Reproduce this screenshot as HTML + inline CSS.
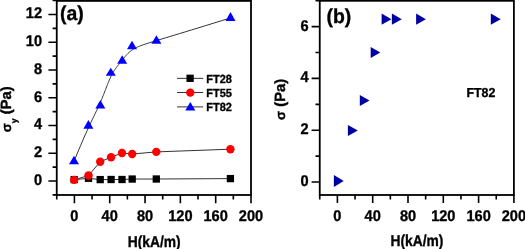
<!DOCTYPE html>
<html><head><meta charset="utf-8"><style>
html,body{margin:0;padding:0;background:#fff;width:525px;height:249px;overflow:hidden}
svg{display:block}
text{font-family:"Liberation Sans",sans-serif;fill:#000;stroke:#000;stroke-width:0.35px;text-rendering:geometricPrecision}
svg{will-change:transform}
</style></head><body>
<svg width="525" height="249" viewBox="0 0 525 249">
<rect width="525" height="249" fill="#fff"/>
<path d="M74.20 179.60L88.50 178.30L100.20 179.60L111.10 179.50L122.00 179.50L132.20 179.05L156.30 179.00L230.40 178.60" stroke="#333" stroke-width="1.0" fill="none"/>
<path d="M74.20 179.90L88.50 175.50L100.20 161.80L111.10 157.20L122.00 153.00L132.20 154.00L156.30 151.90L230.40 149.20" stroke="#333" stroke-width="1.0" fill="none"/>
<path d="M74.00 161.40L75.77 157.06L77.46 152.97L79.06 149.13L80.58 145.53L82.03 142.15L83.40 138.98L84.70 136.01L85.94 133.23L87.11 130.62L88.22 128.19L89.28 125.90L90.28 123.76L91.23 121.75L92.13 119.86L92.98 118.08L93.80 116.40L94.58 114.80L95.32 113.27L96.03 111.81L96.71 110.40L97.37 109.03L98.01 107.69L98.62 106.36L99.22 105.04L99.81 103.72L100.38 102.39L100.95 101.06L101.50 99.74L102.04 98.42L102.57 97.10L103.09 95.79L103.61 94.49L104.11 93.20L104.61 91.92L105.10 90.66L105.58 89.40L106.06 88.17L106.54 86.95L107.01 85.75L107.47 84.58L107.94 83.42L108.40 82.30L108.85 81.19L109.31 80.12L109.77 79.08L110.23 78.07L110.68 77.09L111.14 76.14L111.60 75.23L112.06 74.36L112.53 73.52L112.99 72.70L113.46 71.92L113.92 71.16L114.39 70.43L114.85 69.72L115.32 69.03L115.79 68.36L116.25 67.71L116.72 67.08L117.18 66.46L117.65 65.86L118.11 65.27L118.57 64.69L119.03 64.11L119.49 63.55L119.95 62.98L120.40 62.43L120.86 61.87L121.31 61.31L121.75 60.76L122.20 60.20L122.64 59.63L123.09 59.07L123.53 58.50L123.99 57.93L124.44 57.35L124.91 56.78L125.39 56.21L125.88 55.64L126.39 55.07L126.91 54.50L127.46 53.94L128.02 53.37L128.61 52.82L129.23 52.26L129.87 51.71L130.54 51.17L131.25 50.64L131.99 50.11L132.76 49.59L133.58 49.07L134.43 48.57L135.33 48.08L136.27 47.59L137.26 47.12L138.32 46.65L139.48 46.17L140.75 45.68L142.16 45.16L143.75 44.61L145.53 44.01L147.53 43.36L149.78 42.65L152.30 41.86L155.12 41.00L158.26 40.04L161.75 38.98L165.62 37.81L169.89 36.51L174.58 35.09L179.72 33.54L185.34 31.83L191.46 29.96L198.11 27.93L205.31 25.72L213.10 23.32L221.48 20.73L230.50 17.93" stroke="#333" stroke-width="1.0" fill="none"/>
<rect x="70.55" y="175.95" width="7.3" height="7.3" fill="#000"/>
<rect x="84.85" y="174.65" width="7.3" height="7.3" fill="#000"/>
<rect x="96.55" y="175.95" width="7.3" height="7.3" fill="#000"/>
<rect x="107.45" y="175.85" width="7.3" height="7.3" fill="#000"/>
<rect x="118.35" y="175.85" width="7.3" height="7.3" fill="#000"/>
<rect x="128.55" y="175.40" width="7.3" height="7.3" fill="#000"/>
<rect x="152.65" y="175.35" width="7.3" height="7.3" fill="#000"/>
<rect x="226.75" y="174.95" width="7.3" height="7.3" fill="#000"/>
<circle cx="74.20" cy="179.90" r="4.2" fill="#f00"/>
<circle cx="88.50" cy="175.50" r="4.2" fill="#f00"/>
<circle cx="100.20" cy="161.80" r="4.2" fill="#f00"/>
<circle cx="111.10" cy="157.20" r="4.2" fill="#f00"/>
<circle cx="122.00" cy="153.00" r="4.2" fill="#f00"/>
<circle cx="132.20" cy="154.00" r="4.2" fill="#f00"/>
<circle cx="156.30" cy="151.90" r="4.2" fill="#f00"/>
<circle cx="230.40" cy="149.20" r="4.2" fill="#f00"/>
<path d="M74.00 155.80L79.00 164.20L69.00 164.20Z" fill="#00f"/>
<path d="M88.40 120.10L93.40 128.80L83.40 128.80Z" fill="#00f"/>
<path d="M100.35 100.00L105.35 108.50L95.35 108.50Z" fill="#00f"/>
<path d="M110.80 67.80L115.80 75.80L105.80 75.80Z" fill="#00f"/>
<path d="M122.20 55.30L127.20 63.70L117.20 63.70Z" fill="#00f"/>
<path d="M132.00 40.80L137.00 49.30L127.00 49.30Z" fill="#00f"/>
<path d="M156.40 35.30L161.40 43.80L151.40 43.80Z" fill="#00f"/>
<path d="M230.50 12.00L235.50 20.90L225.50 20.90Z" fill="#00f"/>
<rect x="56.75" y="0.9" width="194.25" height="194.10" fill="none" stroke="#000" stroke-width="1.8"/>
<path d="M56.75 181.00L48.40 181.00 M56.75 153.24L48.40 153.24 M56.75 125.48L48.40 125.48 M56.75 97.73L48.40 97.73 M56.75 69.97L48.40 69.97 M56.75 42.21L48.40 42.21 M56.75 14.45L48.40 14.45 M56.75 194.88L52.60 194.88 M56.75 167.12L52.60 167.12 M56.75 139.36L52.60 139.36 M56.75 111.61L52.60 111.61 M56.75 83.85L52.60 83.85 M56.75 56.09L52.60 56.09 M56.75 28.33L52.60 28.33 M56.75 0.57L52.60 0.57 M74.40 195.00L74.40 203.20 M109.72 195.00L109.72 203.20 M145.04 195.00L145.04 203.20 M180.36 195.00L180.36 203.20 M215.68 195.00L215.68 203.20 M251.00 195.00L251.00 203.20 M56.74 195.00L56.74 199.40 M92.06 195.00L92.06 199.40 M127.38 195.00L127.38 199.40 M162.70 195.00L162.70 199.40 M198.02 195.00L198.02 199.40 M233.34 195.00L233.34 199.40" stroke="#000" stroke-width="1.6" fill="none"/>
<text transform="translate(42.00 184.80) scale(0.94 1)" font-size="15.5" text-anchor="end" font-family="Liberation Sans, sans-serif" font-weight="bold">0</text>
<text transform="translate(42.00 157.04) scale(0.94 1)" font-size="15.5" text-anchor="end" font-family="Liberation Sans, sans-serif" font-weight="bold">2</text>
<text transform="translate(42.00 129.28) scale(0.94 1)" font-size="15.5" text-anchor="end" font-family="Liberation Sans, sans-serif" font-weight="bold">4</text>
<text transform="translate(42.00 101.53) scale(0.94 1)" font-size="15.5" text-anchor="end" font-family="Liberation Sans, sans-serif" font-weight="bold">6</text>
<text transform="translate(42.00 73.77) scale(0.94 1)" font-size="15.5" text-anchor="end" font-family="Liberation Sans, sans-serif" font-weight="bold">8</text>
<text transform="translate(42.00 46.01) scale(0.94 1)" font-size="15.5" text-anchor="end" font-family="Liberation Sans, sans-serif" font-weight="bold">10</text>
<text transform="translate(42.00 18.25) scale(0.94 1)" font-size="15.5" text-anchor="end" font-family="Liberation Sans, sans-serif" font-weight="bold">12</text>
<text transform="translate(74.40 221.00) scale(0.94 1)" font-size="15.5" text-anchor="middle" font-family="Liberation Sans, sans-serif" font-weight="bold">0</text>
<text transform="translate(109.72 221.00) scale(0.94 1)" font-size="15.5" text-anchor="middle" font-family="Liberation Sans, sans-serif" font-weight="bold">40</text>
<text transform="translate(145.04 221.00) scale(0.94 1)" font-size="15.5" text-anchor="middle" font-family="Liberation Sans, sans-serif" font-weight="bold">80</text>
<text transform="translate(180.36 221.00) scale(0.94 1)" font-size="15.5" text-anchor="middle" font-family="Liberation Sans, sans-serif" font-weight="bold">120</text>
<text transform="translate(215.68 221.00) scale(0.94 1)" font-size="15.5" text-anchor="middle" font-family="Liberation Sans, sans-serif" font-weight="bold">160</text>
<text transform="translate(251.00 221.00) scale(0.94 1)" font-size="15.5" text-anchor="middle" font-family="Liberation Sans, sans-serif" font-weight="bold">200</text>
<text transform="translate(154.20 246.60) scale(0.874 1)" font-size="15.8" text-anchor="middle" font-family="Liberation Sans, sans-serif" font-weight="bold">H(kA/m)</text>
<text transform="translate(11.2,109.3) rotate(-90) scale(1.0 1)" font-size="14.8" text-anchor="middle" font-family="Liberation Sans, sans-serif" font-weight="bold"><tspan font-size="13.3">σ</tspan><tspan font-size="8.6" dy="5.4">y</tspan><tspan dy="-5.4"> (Pa)</tspan></text>
<text transform="translate(60.00 19.80) scale(0.97 1)" font-size="20" text-anchor="start" font-family="Liberation Sans, sans-serif" font-weight="bold">(a)</text>
<path d="M177 78.35H203.2M177 92.5H203.2M177 106.9H203.2" stroke="#333" stroke-width="1.0"/>
<rect x="186.45" y="74.65" width="7.3" height="7.3" fill="#000"/>
<circle cx="190.3" cy="92.6" r="4.2" fill="#f00"/>
<path d="M190.3 101.9L195.3 110.4L185.3 110.4Z" fill="#00f"/>
<text transform="translate(206.30 82.50) scale(0.93 1)" font-size="11.8" text-anchor="start" font-family="Liberation Sans, sans-serif" font-weight="bold">FT28</text>
<text transform="translate(206.30 96.50) scale(0.93 1)" font-size="11.8" text-anchor="start" font-family="Liberation Sans, sans-serif" font-weight="bold">FT55</text>
<text transform="translate(206.30 110.80) scale(0.93 1)" font-size="11.8" text-anchor="start" font-family="Liberation Sans, sans-serif" font-weight="bold">FT82</text>
<path d="M333.90 175.10L343.70 181.00L333.90 186.90Z" fill="#0000a2"/>
<path d="M347.90 125.00L357.80 130.55L347.90 136.10Z" fill="#0000a2"/>
<path d="M359.80 95.00L369.50 100.45L359.80 105.90Z" fill="#0000a2"/>
<path d="M370.70 47.10L380.30 52.60L370.70 58.10Z" fill="#0000a2"/>
<path d="M381.60 13.50L391.40 19.15L381.60 24.80Z" fill="#0000a2"/>
<path d="M391.90 13.50L401.80 19.15L391.90 24.80Z" fill="#0000a2"/>
<path d="M416.10 13.50L425.90 19.15L416.10 24.80Z" fill="#0000a2"/>
<path d="M490.80 13.50L500.70 19.15L490.80 24.80Z" fill="#0000a2"/>
<rect x="319.75" y="0.8" width="194.15" height="194.20" fill="none" stroke="#000" stroke-width="1.8"/>
<path d="M319.75 182.05L311.60 182.05 M319.75 130.23L311.60 130.23 M319.75 78.42L311.60 78.42 M319.75 26.60L311.60 26.60 M319.75 156.14L315.50 156.14 M319.75 104.33L315.50 104.33 M319.75 52.51L315.50 52.51 M319.75 0.69L315.50 0.69 M337.40 195.00L337.40 203.00 M372.70 195.00L372.70 203.00 M408.00 195.00L408.00 203.00 M443.30 195.00L443.30 203.00 M478.60 195.00L478.60 203.00 M513.90 195.00L513.90 203.00 M319.75 195.00L319.75 199.50 M355.05 195.00L355.05 199.50 M390.35 195.00L390.35 199.50 M425.65 195.00L425.65 199.50 M460.95 195.00L460.95 199.50 M496.25 195.00L496.25 199.50" stroke="#000" stroke-width="1.6" fill="none"/>
<text transform="translate(308.60 185.95) scale(0.94 1)" font-size="15.5" text-anchor="end" font-family="Liberation Sans, sans-serif" font-weight="bold">0</text>
<text transform="translate(308.60 134.13) scale(0.94 1)" font-size="15.5" text-anchor="end" font-family="Liberation Sans, sans-serif" font-weight="bold">2</text>
<text transform="translate(308.60 82.32) scale(0.94 1)" font-size="15.5" text-anchor="end" font-family="Liberation Sans, sans-serif" font-weight="bold">4</text>
<text transform="translate(308.60 30.50) scale(0.94 1)" font-size="15.5" text-anchor="end" font-family="Liberation Sans, sans-serif" font-weight="bold">6</text>
<text transform="translate(337.40 221.00) scale(0.94 1)" font-size="15.5" text-anchor="middle" font-family="Liberation Sans, sans-serif" font-weight="bold">0</text>
<text transform="translate(372.70 221.00) scale(0.94 1)" font-size="15.5" text-anchor="middle" font-family="Liberation Sans, sans-serif" font-weight="bold">40</text>
<text transform="translate(408.00 221.00) scale(0.94 1)" font-size="15.5" text-anchor="middle" font-family="Liberation Sans, sans-serif" font-weight="bold">80</text>
<text transform="translate(443.30 221.00) scale(0.94 1)" font-size="15.5" text-anchor="middle" font-family="Liberation Sans, sans-serif" font-weight="bold">120</text>
<text transform="translate(478.60 221.00) scale(0.94 1)" font-size="15.5" text-anchor="middle" font-family="Liberation Sans, sans-serif" font-weight="bold">160</text>
<text transform="translate(513.90 221.00) scale(0.94 1)" font-size="15.5" text-anchor="middle" font-family="Liberation Sans, sans-serif" font-weight="bold">200</text>
<text transform="translate(417.00 246.20) scale(0.874 1)" font-size="15.8" text-anchor="middle" font-family="Liberation Sans, sans-serif" font-weight="bold">H(kA/m)</text>
<text transform="translate(285.4,99.4) rotate(-90) scale(1.0 1)" font-size="14.8" text-anchor="middle" font-family="Liberation Sans, sans-serif" font-weight="bold"><tspan font-size="13.3">σ</tspan><tspan> (Pa)</tspan></text>
<text transform="translate(326.50 23.00) scale(0.97 1)" font-size="20" text-anchor="start" font-family="Liberation Sans, sans-serif" font-weight="bold">(b)</text>
<text transform="translate(466.50 96.50) scale(0.95 1)" font-size="13.0" text-anchor="start" font-family="Liberation Sans, sans-serif" font-weight="bold">FT82</text>
</svg>
</body></html>
